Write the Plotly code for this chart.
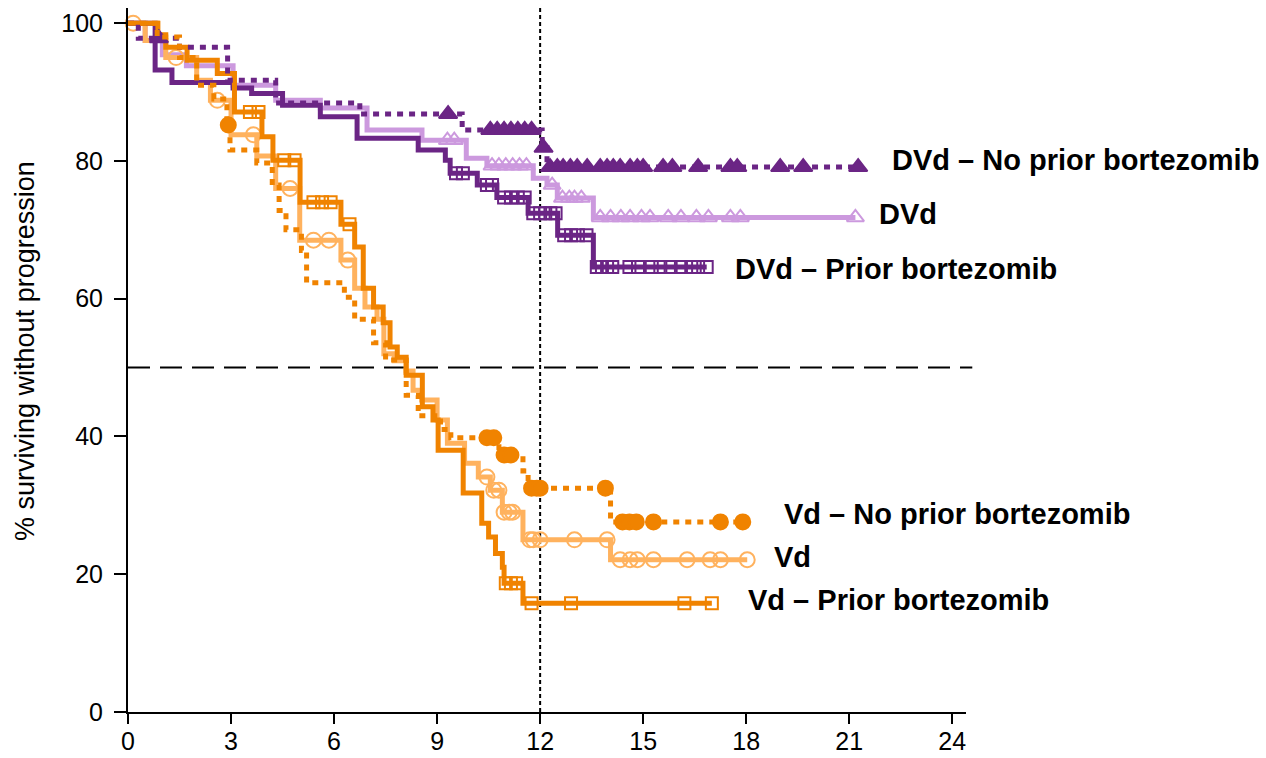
import numpy as np
import plotly.graph_objects as go

# ---------------- data (months, % surviving without progression) ----------------
dvd_np_t = [0, 0.3, 1.5, 2.9, 4.3, 6.75, 9.73, 12.06, 12.2]
dvd_np_s = [100, 97.8, 96.5, 91.7, 88.4, 86.8, 84.5, 81.9, 79.1]
dvd_np_c = [0.9, 9.32, 10.55, 10.75, 10.95, 11.15, 11.35, 11.55, 11.75, 12.1,
            12.29, 12.5, 12.67, 12.88, 13.08, 13.37, 13.75, 13.95, 14.13, 14.33,
            14.62, 14.83, 15.0, 15.58, 15.85, 16.6, 17.54, 17.74, 18.99, 19.66, 21.26]

dvd_t = [0, 0.5, 1.0, 1.7, 3.06, 4.3, 5.6, 6.96, 8.56, 9.85, 10.45, 11.8, 12.2, 12.5, 13.55]
dvd_s = [100, 97.5, 95.4, 93.8, 91.0, 88.8, 87.7, 84.5, 83.0, 80.4, 79.3, 77.5, 76.5, 74.6, 71.8]
dvd_c = [9.3, 9.5, 10.6, 10.8, 11.0, 11.2, 11.4, 11.6, 12.35, 12.65, 12.85, 13.0, 13.2,
         13.75, 14.05, 14.35, 14.62, 14.95, 15.2, 15.73, 16.1, 16.55, 16.9, 17.54, 17.83, 21.18]

dvd_p_t = [0, 0.79, 1.28, 3.06, 3.6, 4.5, 5.6, 6.67, 8.45, 9.24, 9.38, 10.17, 10.74, 11.65, 12.51, 13.55]
dvd_p_s = [100, 93.2, 91.4, 90.6, 89.8, 88.1, 86.4, 83.3, 81.6, 80.1, 78.2, 76.5, 74.7, 72.4, 69.2, 64.6]
dvd_p_c = [9.55, 9.75, 10.45, 10.6, 10.95, 11.15, 11.35, 11.55, 11.8, 12.0, 12.15, 12.3, 12.45,
           12.7, 12.9, 13.1, 13.35, 13.65, 13.8, 13.95, 14.1, 14.6, 14.85, 15.25, 15.5, 15.8,
           16.1, 16.4, 16.6, 16.85]

vd_np_t = [0, 0.85, 1.5, 2.0, 2.5, 2.88, 2.97, 3.75, 4.2, 4.4, 4.6, 5.05, 5.2, 6.3, 6.6,
           7.15, 7.5, 8.1, 8.45, 9.1, 9.4, 10.8, 11.5, 11.65, 14.05]
vd_np_s = [100, 98.0, 95.0, 91.0, 89.0, 85.2, 81.6, 79.7, 76.5, 72.8, 70.0, 67.0, 62.3, 60.2, 57.0,
           53.6, 51.1, 46.0, 43.0, 41.0, 39.8, 37.3, 35.0, 32.5, 27.6]
vd_np_c = [2.92, 10.45, 10.65, 10.95, 11.15, 11.75, 11.9, 12.0, 13.9, 14.4, 14.6, 14.8, 15.3, 17.25, 17.9]

vd_t = [0, 0.5, 1.1, 2.0, 2.4, 3.0, 3.75, 4.3, 5.0, 6.2, 6.6, 6.9, 7.25, 7.45, 7.75, 8.1, 8.3,
        8.55, 9.0, 9.3, 9.8, 10.2, 10.55, 10.9, 11.5, 14.05]
vd_s = [100, 97.5, 95.0, 91.7, 88.8, 83.8, 80.7, 76.0, 68.5, 65.6, 61.5, 58.8, 57.0, 52.0, 51.0,
        49.5, 46.7, 45.3, 42.4, 39.0, 36.1, 34.1, 32.2, 29.0, 25.0, 22.1]
vd_c = [0.15, 1.4, 2.6, 3.65, 4.72, 5.4, 5.85, 6.4, 10.45, 10.65, 10.8, 10.95, 11.1, 11.2, 11.7,
        11.8, 12.0, 13.0, 13.95, 14.33, 14.62, 14.83, 15.3, 16.28, 16.95, 17.25, 18.03]

vd_p_t = [0, 0.87, 1.1, 1.72, 2.6, 3.1, 3.9, 4.22, 5.01, 6.2, 6.6, 6.85, 7.15, 7.43, 7.63, 7.84,
          8.1, 8.57, 8.88, 9.03, 9.76, 10.3, 10.5, 10.7, 10.9, 10.95, 11.5]
vd_p_s = [100, 98.3, 96.5, 94.6, 92.7, 87.1, 83.5, 80.1, 74.0, 70.8, 67.5, 61.5, 58.8, 56.5, 53.0,
          51.5, 48.9, 44.3, 42.4, 38.0, 31.8, 27.4, 25.4, 23.0, 21.0, 18.7, 15.8]
vd_p_c = [3.55, 3.8, 4.55, 4.85, 5.4, 5.65, 5.9, 6.45, 11.0, 11.15, 11.3, 11.75, 12.9, 16.2, 17.0]

x_ticks = [0, 3, 6, 9, 12, 15, 18, 21, 24]
y_ticks = [0, 20, 40, 60, 80, 100]

labels = ["DVd \u2013 No prior bortezomib", "DVd", "DVd \u2013 Prior bortezomib",
          "Vd \u2013 No prior bortezomib", "Vd", "Vd \u2013 Prior bortezomib"]

DARK_PURPLE = "#6B2585"
LIGHT_PURPLE = "#CC99DE"
ORANGE = "#F08300"
LIGHT_ORANGE = "#FFB25E"

series = [
    dict(t=dvd_t, s=dvd_s, c=dvd_c, color=LIGHT_PURPLE, dash="solid", sym="triangle-up-open", msize=15,
         label=labels[1], lx=21.82, ly=72.3),
    dict(t=vd_t, s=vd_s, c=vd_c, color=LIGHT_ORANGE, dash="solid", sym="circle-open", msize=15,
         label=labels[4], lx=18.76, ly=22.5),
    dict(t=dvd_p_t, s=dvd_p_s, c=dvd_p_c, color=DARK_PURPLE, dash="solid", sym="square-open", msize=12,
         label=labels[2], lx=17.62, ly=64.3),
    dict(t=vd_p_t, s=vd_p_s, c=vd_p_c, color=ORANGE, dash="solid", sym="square-open", msize=12,
         label=labels[5], lx=18.0, ly=16.3),
    dict(t=dvd_np_t, s=dvd_np_s, c=dvd_np_c, color=DARK_PURPLE, dash="6px,6px", sym="triangle-up", msize=16,
         label=labels[0], lx=22.2, ly=80.1),
    dict(t=vd_np_t, s=vd_np_s, c=vd_np_c, color=ORANGE, dash="6px,6px", sym="circle", msize=15,
         label=labels[3], lx=19.05, ly=28.7),
]

fig = go.Figure()

for sr in series:
    t = np.array(sr["t"], dtype=float)
    s = np.array(sr["s"], dtype=float)
    c = np.array(sr["c"], dtype=float)
    end = max(t[-1], c.max())
    xs = np.append(t, end)
    ys = np.append(s, s[-1])
    fig.add_trace(go.Scatter(x=xs, y=ys, mode="lines", line=dict(color=sr["color"], width=5,
                             dash=sr["dash"], shape="hv"), cliponaxis=False, showlegend=False,
                             hoverinfo="skip"))
    idx = np.searchsorted(t, c, side="right") - 1
    cy = s[idx]
    fig.add_trace(go.Scatter(x=c, y=cy, mode="markers",
                             marker=dict(symbol=sr["sym"], size=sr["msize"], color=sr["color"],
                                         line=dict(color=sr["color"], width=2)),
                             cliponaxis=False, showlegend=False, name=sr["label"]))
    fig.add_annotation(x=sr["lx"], y=sr["ly"], xref="x", yref="y", text="<b>%s</b>" % sr["label"],
                       showarrow=False, xanchor="left", yanchor="middle",
                       font=dict(family="Liberation Sans, Arial", size=29, color="black"))

# reference lines
fig.add_shape(type="line", xref="paper", yref="y", x0=0, x1=1.0075, y0=50, y1=50,
              line=dict(color="black", width=2, dash="22px,10px"), layer="below")
fig.add_shape(type="line", xref="x", yref="paper", x0=12, x1=12, y0=0, y1=1,
              line=dict(color="black", width=2, dash="4px,3px"), layer="below")

# y-axis title as rotated text
fig.add_annotation(xref="paper", yref="paper", x=(25 - 128) / 837.7, y=(712 - 351) / 704,
                   text="% surviving without progression", textangle=-90, showarrow=False,
                   xanchor="center", yanchor="middle",
                   font=dict(family="Liberation Sans, Arial", size=27, color="black"))

axis_common = dict(showline=True, linecolor="black", linewidth=2, ticks="outside",
                   tickwidth=2, tickcolor="black", showgrid=False, zeroline=False, automargin=False,
                   tickfont=dict(family="Liberation Sans, Arial", size=25, color="black"))

fig.update_layout(
    width=1266, height=758,
    margin=dict(l=128, r=300, t=8, b=46),
    paper_bgcolor="white", plot_bgcolor="white",
    xaxis=dict(range=[0, 24.4], tickvals=x_ticks, ticktext=[str(v) for v in x_ticks],
               ticklen=10, ticklabelstandoff=-4, **axis_common),
    yaxis=dict(range=[0, 102.2], tickvals=y_ticks, ticktext=[str(v) for v in y_ticks],
               ticklen=12, ticklabelstandoff=6, **axis_common),
    showlegend=False,
)

fig.write_html("out.html")
